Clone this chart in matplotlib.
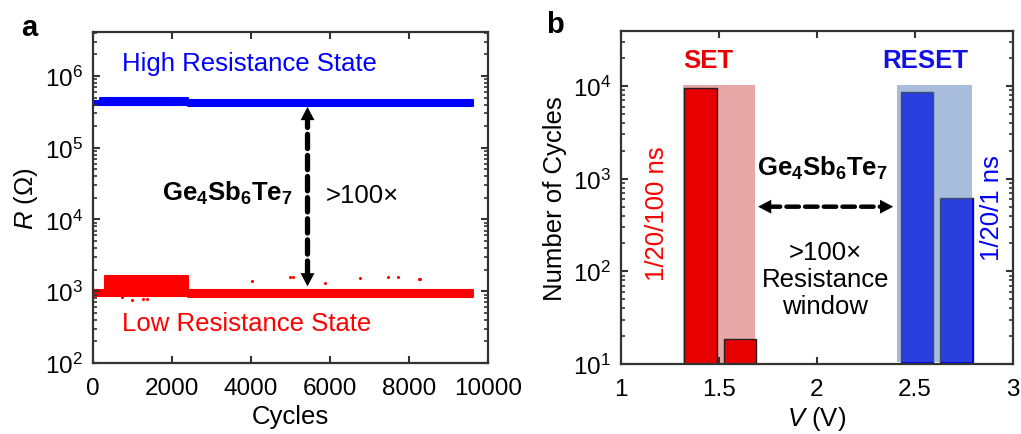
import numpy as np
from matplotlib import pyplot as plt

plt.rcParams['font.family'] = ['Liberation Sans', 'DejaVu Sans']
plt.rcParams['mathtext.fontset'] = 'custom'
plt.rcParams['mathtext.rm'] = 'Liberation Sans'
plt.rcParams['mathtext.it'] = 'Liberation Sans:italic'
plt.rcParams['mathtext.bf'] = 'Liberation Sans:bold'

# ---- panel a: resistance vs cycles (bands) ----
HRS_START = [0, 170, 2400]
HRS_END = [170, 2400, 9610]
HRS_LOW = [3.9e5, 3.9e5, 3.85e5]
HRS_HIGH = [4.5e5, 5.0e5, 4.65e5]

LRS_START = [0, 300, 2400]
LRS_END = [300, 2400, 9610]
LRS_LOW = [870, 850, 820]
LRS_HIGH = [1040, 1650, 1030]

LRS_OUT_CYC = [728, 982, 1277, 1378, 4028, 4975, 5068, 5871, 6759, 7480, 7716, 8257, 8290]
LRS_OUT_R = [825, 757, 780, 780, 1377, 1580, 1580, 1291, 1550, 1600, 1580, 1468, 1490]

ARROW_A_CYC = 5430
ARROW_A_TOP = 3.7e5
ARROW_A_BOT = 1170

# ---- panel b: histogram of switching voltages ----
SET_LEFT = [1.324, 1.527]
SET_RIGHT = [1.490, 1.687]
SET_COUNT = [9500, 17.7]
RESET_LEFT = [2.430, 2.630]
RESET_RIGHT = [2.590, 2.795]
RESET_COUNT = [8650, 617]
SET_WIN = [1.318, 1.685]
RESET_WIN = [2.408, 2.790]
WIN_TOP = 1.03e4

ARROW_B_V = [1.70, 2.389]
ARROW_B_Y = 498

FS = 18.5
TICK_FS = 17.5
SPINE = '#333333'


def style_axes(ax):
    for s in ax.spines.values():
        s.set_linewidth(1.6)
        s.set_color(SPINE)
    ax.tick_params(which='both', direction='in', top=True, right=True,
                   color=SPINE, labelsize=TICK_FS)
    ax.tick_params(which='major', length=5, width=1.5, pad=7)
    ax.tick_params(axis='x', which='major', pad=10)
    ax.tick_params(which='minor', length=3, width=1.2)


def dashed_double_arrow(ax, p0, p1, lw, dash):
    ax.annotate('', xy=p1, xytext=p0,
                arrowprops=dict(arrowstyle='-', lw=lw, ls=(0, dash), color='k',
                                shrinkA=7, shrinkB=7))
    for tip, base in ((p1, p0), (p0, p1)):
        ax.annotate('', xy=tip, xytext=base,
                    arrowprops=dict(arrowstyle='-|>,head_length=0.95,head_width=0.5',
                                    mutation_scale=10, lw=0, color='k',
                                    shrinkA=0, shrinkB=0),
                    annotation_clip=False)


def plot_a(ax):
    for s, e, lo, hi in zip(HRS_START, HRS_END, HRS_LOW, HRS_HIGH):
        ax.fill_between([s, e], lo, hi, color='#0000ff', lw=1.5, edgecolor='#0000ff')
    for s, e, lo, hi in zip(LRS_START, LRS_END, LRS_LOW, LRS_HIGH):
        ax.fill_between([s, e], lo, hi, color='#ff0000', lw=1.5, edgecolor='#ff0000')
    ax.scatter(LRS_OUT_CYC, LRS_OUT_R, s=5, color='#ff0000', lw=0)

    # arrow (heads as short solid arrows, shaft dashed)
    ax.annotate('', xy=(ARROW_A_CYC, ARROW_A_TOP), xytext=(ARROW_A_CYC, ARROW_A_BOT),
                arrowprops=dict(arrowstyle='-', lw=3.8, ls=(0, (2.7, 1.3)), color='k',
                                shrinkA=8, shrinkB=8))
    for tip, off in ((ARROW_A_TOP, -14), (ARROW_A_BOT, 14)):
        ax.annotate('', xy=(ARROW_A_CYC, tip), xytext=(0, off), textcoords='offset points',
                    arrowprops=dict(arrowstyle='-|>,head_length=0.95,head_width=0.5',
                                    mutation_scale=10, lw=0, color='k',
                                    shrinkA=0, shrinkB=0))

    ax.text(734, 1.5e6, 'High Resistance State', color='#0000ff', fontsize=FS,
            ha='left', va='center')
    ax.text(734, 360, 'Low Resistance State', color='#ff0000', fontsize=FS,
            ha='left', va='center')
    ax.text(3392, 2.4e4, r'$\mathbf{Ge_4Sb_6Te_7}$', fontsize=FS, ha='center', va='center')
    ax.text(6823, 2.2e4, '>100×', fontsize=FS, ha='center', va='center')

    ax.set_yscale('log')
    ax.set_xlim(0, 10000)
    ax.set_ylim(1e2, 4.1e6)
    ax.set_xticks([0, 2000, 4000, 6000, 8000, 10000])
    style_axes(ax)
    ax.set_xlabel('Cycles', fontsize=FS, labelpad=4)
    ax.set_ylabel(r'$R$ ($\Omega$)', fontsize=FS, labelpad=4)


def plot_b(ax):
    ax.fill_between(SET_WIN, 10, WIN_TOP, color='#e8a8a8', lw=0, zorder=1)
    for l, r, c in zip(SET_LEFT, SET_RIGHT, SET_COUNT):
        ax.bar((l + r) / 2, c, width=r - l, bottom=1, color='#e60000',
               edgecolor='#222222', lw=1, zorder=2)
    for l, r, c in zip(RESET_LEFT, RESET_RIGHT, RESET_COUNT):
        ax.bar((l + r) / 2, c, width=r - l, bottom=1, color='#0000ff',
               edgecolor='#222222', lw=1, zorder=2)
    ax.fill_between(RESET_WIN, 10.4, WIN_TOP, color='#537cba', alpha=0.5, lw=0, zorder=3)

    dashed_double_arrow(ax, (ARROW_B_V[0], ARROW_B_Y), (ARROW_B_V[1], ARROW_B_Y),
                        3.2, (2.8, 1.4))

    ax.text(1.445, 1.89e4, 'SET', color='#e60000', fontsize=FS, fontweight='bold',
            ha='center', va='center')
    ax.text(2.553, 1.89e4, 'RESET', color='#1010e8', fontsize=FS, fontweight='bold',
            ha='center', va='center')
    ax.text(1.185, 429, '1/20/100 ns', color='#ff0000', fontsize=FS, rotation=90,
            ha='center', va='center')
    ax.text(2.895, 498, '1/20/1 ns', color='#0000ff', fontsize=FS, rotation=90,
            ha='center', va='center')
    ax.text(2.027, 1315, r'$\mathbf{Ge_4Sb_6Te_7}$', fontsize=FS, ha='center', va='center')
    ax.text(2.042, 83, '>100×\nResistance\nwindow', fontsize=FS, ha='center', va='center',
            linespacing=1.15)

    ax.set_yscale('log')
    ax.set_xlim(1, 3)
    ax.set_ylim(10, 3.9e4)
    ax.set_xticks([1, 1.5, 2, 2.5, 3])
    ax.set_xticklabels(['1', '1.5', '2', '2.5', '3'])
    style_axes(ax)
    ax.set_xlabel(r'$V$ (V)', fontsize=FS, labelpad=3)
    ax.set_ylabel('Number of Cycles', fontsize=FS, labelpad=4)


def main():
    fig = plt.figure(figsize=(10.21, 4.35), dpi=100)
    ax_a = fig.add_axes([0.0911, 0.1632, 0.3869, 0.761])
    ax_b = fig.add_axes([0.6080, 0.1610, 0.3842, 0.765])
    plot_a(ax_a)
    plot_b(ax_b)
    fig.text(0.029, 0.935, 'a', fontsize=21, fontweight='bold', ha='center', va='center')
    fig.text(0.544, 0.942, 'b', fontsize=21, fontweight='bold', ha='center', va='center')
    fig.savefig('out.png', dpi=100)


if __name__ == '__main__':
    main()
